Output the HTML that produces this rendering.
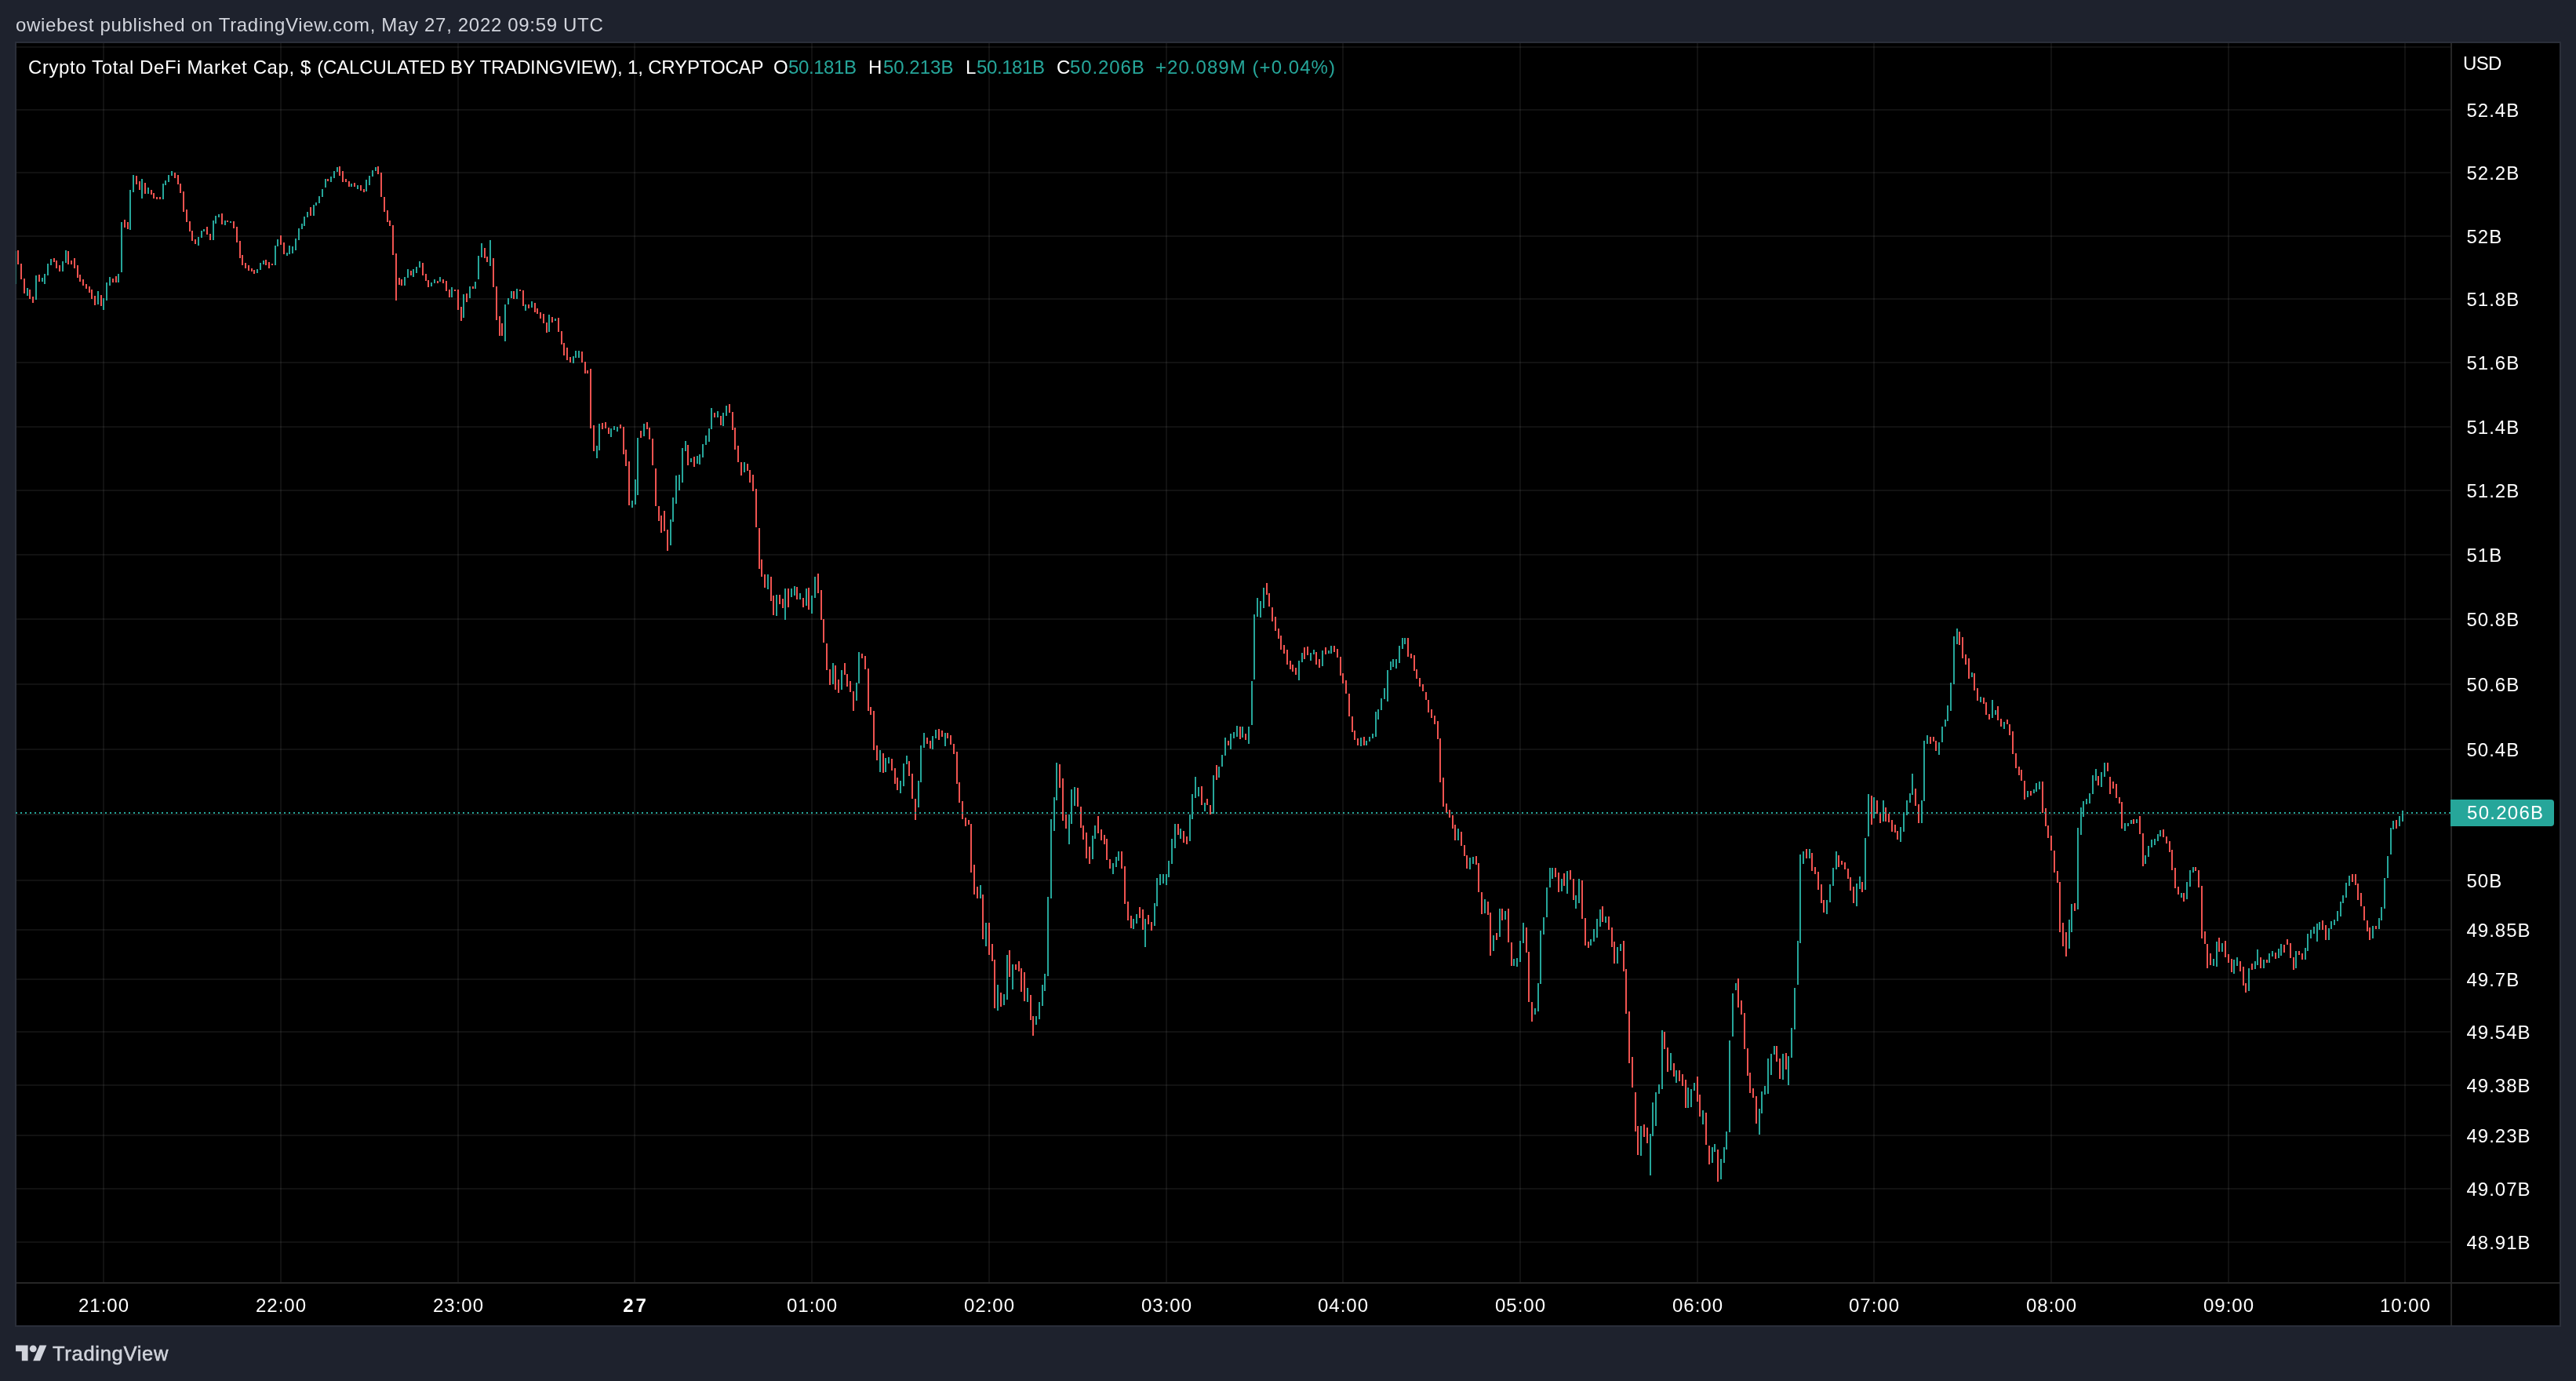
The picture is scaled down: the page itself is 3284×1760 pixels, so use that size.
<!DOCTYPE html>
<html><head><meta charset="utf-8"><title>TradingView chart</title>
<style>
html,body{margin:0;padding:0;background:#1e222d;}
body{width:3284px;height:1760px;position:relative;overflow:hidden;font-family:"Liberation Sans",sans-serif;font-size:24px;color:#fff;}
.hdr{position:absolute;left:20px;top:17.5px;line-height:28px;color:#d1d4dc;letter-spacing:0.68px;white-space:pre;}
.box{position:absolute;left:19px;top:53px;width:3242px;height:1634px;border:2px solid #2a2e39;background:#000;}
svg.ch{position:absolute;left:0;top:0;}
.txt{position:absolute;left:0;top:0;width:3284px;height:1760px;will-change:transform;}
.hdr,.logot{will-change:transform;}
.g{fill:#fff;fill-opacity:0.067}
.leg{position:absolute;top:72px;line-height:28px;white-space:pre;}
.t{color:#26a69a}
.pl{position:absolute;left:3144.5px;line-height:28px;letter-spacing:1px;white-space:pre;}
.tl{position:absolute;top:1650px;width:120px;text-align:center;line-height:28px;letter-spacing:1px;text-indent:1px;white-space:pre;}
.tl.b{font-weight:bold;letter-spacing:3px;text-indent:3px;}
.usd{position:absolute;left:3140px;top:67px;line-height:28px;letter-spacing:-0.7px;}
.cur{position:absolute;left:3145.1px;top:1022.3px;line-height:28px;letter-spacing:1.25px;}
.logo{position:absolute;left:20px;top:1709.6px;}
.logot{position:absolute;left:66.5px;top:1710.1px;font-size:25.5px;line-height:30px;letter-spacing:0.7px;color:#d1d4dc;-webkit-text-stroke:0.5px #d1d4dc;}
</style></head><body>
<div class="hdr">owiebest published on TradingView.com, May 27, 2022 09:59 UTC</div>
<div class="box"></div>
<svg class="ch" width="3284" height="1760" viewBox="0 0 3284 1760" shape-rendering="crispEdges">
<rect x="21" y="59" width="3103" height="2" class="g"/>
<rect x="21" y="1037" width="3103" height="2" class="g"/>
<rect x="21" y="139" width="3103" height="2" class="g"/>
<rect x="21" y="219" width="3103" height="2" class="g"/>
<rect x="21" y="300" width="3103" height="2" class="g"/>
<rect x="21" y="380" width="3103" height="2" class="g"/>
<rect x="21" y="461" width="3103" height="2" class="g"/>
<rect x="21" y="543" width="3103" height="2" class="g"/>
<rect x="21" y="624" width="3103" height="2" class="g"/>
<rect x="21" y="706" width="3103" height="2" class="g"/>
<rect x="21" y="788" width="3103" height="2" class="g"/>
<rect x="21" y="871" width="3103" height="2" class="g"/>
<rect x="21" y="954" width="3103" height="2" class="g"/>
<rect x="21" y="1121" width="3103" height="2" class="g"/>
<rect x="21" y="1184" width="3103" height="2" class="g"/>
<rect x="21" y="1247" width="3103" height="2" class="g"/>
<rect x="21" y="1314" width="3103" height="2" class="g"/>
<rect x="21" y="1382" width="3103" height="2" class="g"/>
<rect x="21" y="1446" width="3103" height="2" class="g"/>
<rect x="21" y="1514" width="3103" height="2" class="g"/>
<rect x="21" y="1582" width="3103" height="2" class="g"/>
<rect x="131" y="55" width="2" height="1579" class="g"/>
<rect x="357" y="55" width="2" height="1579" class="g"/>
<rect x="583" y="55" width="2" height="1579" class="g"/>
<rect x="808" y="55" width="2" height="1579" class="g"/>
<rect x="1034" y="55" width="2" height="1579" class="g"/>
<rect x="1260" y="55" width="2" height="1579" class="g"/>
<rect x="1486" y="55" width="2" height="1579" class="g"/>
<rect x="1711" y="55" width="2" height="1579" class="g"/>
<rect x="1937" y="55" width="2" height="1579" class="g"/>
<rect x="2163" y="55" width="2" height="1579" class="g"/>
<rect x="2388" y="55" width="2" height="1579" class="g"/>
<rect x="2614" y="55" width="2" height="1579" class="g"/>
<rect x="2840" y="55" width="2" height="1579" class="g"/>
<rect x="3065" y="55" width="2" height="1579" class="g"/>
<rect x="20" y="320" width="1" height="42" fill="#2c6e6a"/>
<path fill="#26a69a" d="M34 367h2v10h-2zM45 351h2v31h-2zM53 354h2v5h-2zM56 349h2v13h-2zM60 336h2v15h-2zM64 330h2v8h-2zM79 333h2v13h-2zM83 319h2v16h-2zM124 371h2v17h-2zM131 380h2v15h-2zM135 360h2v23h-2zM139 353h2v11h-2zM150 349h2v11h-2zM154 283h2v64h-2zM165 242h2v51h-2zM169 223h2v22h-2zM180 228h2v25h-2zM188 239h2v8h-2zM207 234h2v20h-2zM210 230h2v6h-2zM214 223h2v9h-2zM218 218h2v6h-2zM252 302h2v11h-2zM256 294h2v9h-2zM259 292h2v3h-2zM271 281h2v25h-2zM274 275h2v10h-2zM278 273h2v4h-2zM286 281h2v6h-2zM293 282h2v2h-2zM327 343h2v5h-2zM331 335h2v9h-2zM335 332h2v5h-2zM350 313h2v25h-2zM353 305h2v9h-2zM365 322h2v4h-2zM368 313h2v11h-2zM372 314h2v9h-2zM376 304h2v15h-2zM380 291h2v15h-2zM384 285h2v7h-2zM387 276h2v12h-2zM391 270h2v7h-2zM399 261h2v14h-2zM402 258h2v4h-2zM406 250h2v9h-2zM410 241h2v10h-2zM414 228h2v11h-2zM421 225h2v7h-2zM425 218h2v9h-2zM429 213h2v6h-2zM447 234h2v4h-2zM455 236h2v5h-2zM466 229h2v15h-2zM470 224h2v12h-2zM474 217h2v8h-2zM478 213h2v5h-2zM515 353h2v11h-2zM519 343h2v11h-2zM526 343h2v10h-2zM530 340h2v8h-2zM534 333h2v8h-2zM549 360h2v5h-2zM553 356h2v5h-2zM560 353h2v6h-2zM575 366h2v13h-2zM590 375h2v30h-2zM598 365h2v15h-2zM605 359h2v9h-2zM609 326h2v30h-2zM613 310h2v18h-2zM624 306h2v33h-2zM643 388h2v47h-2zM647 380h2v8h-2zM651 371h2v9h-2zM658 368h2v13h-2zM669 388h2v8h-2zM677 384h2v8h-2zM699 401h2v22h-2zM707 406h2v3h-2zM730 454h2v9h-2zM733 447h2v9h-2zM737 447h2v9h-2zM760 568h2v16h-2zM763 540h2v34h-2zM778 546h2v11h-2zM782 543h2v5h-2zM786 544h2v6h-2zM805 638h2v9h-2zM809 611h2v32h-2zM812 558h2v73h-2zM820 540h2v16h-2zM854 662h2v33h-2zM857 634h2v31h-2zM861 606h2v36h-2zM865 605h2v20h-2zM869 571h2v44h-2zM873 562h2v13h-2zM880 584h2v5h-2zM888 581h2v10h-2zM891 579h2v13h-2zM895 566h2v17h-2zM899 555h2v12h-2zM903 546h2v17h-2zM906 520h2v27h-2zM914 524h2v8h-2zM921 526h2v17h-2zM925 517h2v13h-2zM948 589h2v13h-2zM978 732h2v19h-2zM989 758h2v27h-2zM1000 750h2v40h-2zM1008 750h2v11h-2zM1012 747h2v12h-2zM1019 756h2v8h-2zM1027 750h2v22h-2zM1034 759h2v23h-2zM1038 735h2v27h-2zM1061 845h2v27h-2zM1072 854h2v25h-2zM1091 870h2v23h-2zM1094 831h2v40h-2zM1121 956h2v28h-2zM1128 966h2v18h-2zM1132 965h2v8h-2zM1147 995h2v16h-2zM1151 973h2v29h-2zM1155 963h2v11h-2zM1170 995h2v34h-2zM1173 950h2v47h-2zM1177 934h2v19h-2zM1188 938h2v17h-2zM1192 930h2v11h-2zM1204 934h2v17h-2zM1249 1128h2v17h-2zM1256 1176h2v30h-2zM1271 1255h2v33h-2zM1279 1267h2v14h-2zM1283 1217h2v57h-2zM1290 1229h2v32h-2zM1309 1259h2v18h-2zM1320 1295h2v11h-2zM1324 1277h2v22h-2zM1328 1255h2v27h-2zM1331 1241h2v22h-2zM1335 1143h2v101h-2zM1339 1044h2v101h-2zM1343 1016h2v43h-2zM1346 972h2v48h-2zM1362 1038h2v38h-2zM1365 1006h2v44h-2zM1369 1003h2v24h-2zM1392 1065h2v30h-2zM1395 1052h2v17h-2zM1418 1100h2v14h-2zM1422 1092h2v13h-2zM1425 1085h2v12h-2zM1444 1171h2v13h-2zM1448 1165h2v12h-2zM1459 1171h2v36h-2zM1471 1151h2v29h-2zM1474 1119h2v36h-2zM1478 1114h2v14h-2zM1482 1114h2v12h-2zM1486 1114h2v14h-2zM1489 1097h2v21h-2zM1493 1069h2v32h-2zM1497 1050h2v31h-2zM1504 1056h2v13h-2zM1516 1038h2v34h-2zM1519 1012h2v32h-2zM1523 990h2v27h-2zM1527 1003h2v12h-2zM1535 1023h2v11h-2zM1546 988h2v49h-2zM1553 977h2v14h-2zM1557 962h2v15h-2zM1561 940h2v23h-2zM1568 935h2v20h-2zM1572 933h2v8h-2zM1576 925h2v14h-2zM1583 926h2v14h-2zM1591 926h2v22h-2zM1595 868h2v56h-2zM1598 783h2v83h-2zM1602 762h2v24h-2zM1606 766h2v21h-2zM1610 749h2v26h-2zM1655 842h2v25h-2zM1659 832h2v12h-2zM1670 832h2v10h-2zM1674 828h2v6h-2zM1685 829h2v20h-2zM1693 829h2v4h-2zM1696 823h2v10h-2zM1734 940h2v11h-2zM1741 944h2v6h-2zM1745 939h2v6h-2zM1749 935h2v6h-2zM1753 907h2v32h-2zM1756 904h2v13h-2zM1760 890h2v15h-2zM1764 877h2v14h-2zM1768 854h2v40h-2zM1772 843h2v11h-2zM1775 840h2v10h-2zM1779 840h2v12h-2zM1783 823h2v22h-2zM1787 813h2v14h-2zM1790 813h2v8h-2zM1858 1056h2v15h-2zM1873 1093h2v15h-2zM1877 1092h2v9h-2zM1892 1146h2v18h-2zM1903 1192h2v20h-2zM1911 1158h2v36h-2zM1918 1161h2v11h-2zM1929 1222h2v9h-2zM1933 1221h2v11h-2zM1937 1199h2v27h-2zM1941 1176h2v26h-2zM1956 1285h2v8h-2zM1960 1253h2v36h-2zM1963 1186h2v68h-2zM1967 1169h2v22h-2zM1971 1131h2v38h-2zM1975 1106h2v25h-2zM1978 1106h2v14h-2zM1990 1120h2v16h-2zM1997 1110h2v29h-2zM2008 1141h2v17h-2zM2012 1120h2v31h-2zM2027 1197h2v8h-2zM2031 1184h2v16h-2zM2035 1171h2v24h-2zM2039 1159h2v22h-2zM2046 1168h2v8h-2zM2061 1207h2v21h-2zM2065 1203h2v9h-2zM2091 1435h2v38h-2zM2103 1445h2v53h-2zM2106 1405h2v43h-2zM2110 1392h2v43h-2zM2114 1382h2v12h-2zM2118 1313h2v75h-2zM2129 1342h2v22h-2zM2136 1364h2v16h-2zM2151 1386h2v26h-2zM2155 1388h2v23h-2zM2159 1380h2v10h-2zM2170 1415h2v18h-2zM2182 1462h2v20h-2zM2185 1458h2v10h-2zM2193 1477h2v26h-2zM2197 1462h2v20h-2zM2200 1442h2v23h-2zM2204 1326h2v117h-2zM2208 1266h2v55h-2zM2212 1253h2v9h-2zM2242 1413h2v33h-2zM2245 1391h2v28h-2zM2249 1384h2v11h-2zM2253 1349h2v45h-2zM2257 1343h2v27h-2zM2261 1333h2v11h-2zM2272 1343h2v33h-2zM2279 1346h2v37h-2zM2283 1310h2v38h-2zM2287 1259h2v53h-2zM2291 1199h2v56h-2zM2294 1089h2v113h-2zM2298 1085h2v16h-2zM2306 1082h2v12h-2zM2328 1147h2v18h-2zM2332 1127h2v23h-2zM2336 1106h2v23h-2zM2340 1085h2v23h-2zM2366 1126h2v29h-2zM2370 1117h2v16h-2zM2377 1068h2v66h-2zM2381 1012h2v54h-2zM2388 1016h2v27h-2zM2400 1020h2v27h-2zM2422 1054h2v19h-2zM2426 1035h2v25h-2zM2430 1020h2v19h-2zM2434 1011h2v12h-2zM2437 986h2v27h-2zM2449 1020h2v29h-2zM2452 944h2v77h-2zM2456 937h2v11h-2zM2471 946h2v16h-2zM2475 926h2v20h-2zM2479 917h2v9h-2zM2482 899h2v20h-2zM2486 870h2v36h-2zM2490 811h2v61h-2zM2494 801h2v20h-2zM2513 857h2v6h-2zM2524 888h2v7h-2zM2539 892h2v23h-2zM2543 905h2v6h-2zM2554 920h2v9h-2zM2584 1008h2v8h-2zM2592 1006h2v5h-2zM2595 998h2v11h-2zM2599 996h2v10h-2zM2637 1172h2v37h-2zM2640 1152h2v36h-2zM2648 1055h2v104h-2zM2652 1029h2v35h-2zM2655 1021h2v20h-2zM2659 1018h2v7h-2zM2663 1011h2v13h-2zM2667 988h2v24h-2zM2671 980h2v15h-2zM2678 984h2v19h-2zM2682 972h2v18h-2zM2708 1049h2v10h-2zM2712 1049h2v4h-2zM2716 1045h2v5h-2zM2723 1044h2v5h-2zM2734 1090h2v11h-2zM2738 1078h2v14h-2zM2742 1070h2v10h-2zM2746 1069h2v8h-2zM2750 1063h2v9h-2zM2753 1058h2v8h-2zM2780 1138h2v6h-2zM2787 1124h2v22h-2zM2791 1109h2v21h-2zM2795 1105h2v7h-2zM2821 1222h2v9h-2zM2825 1200h2v32h-2zM2832 1202h2v11h-2zM2847 1223h2v18h-2zM2851 1220h2v11h-2zM2866 1234h2v29h-2zM2874 1225h2v10h-2zM2877 1210h2v20h-2zM2885 1223h2v11h-2zM2892 1215h2v12h-2zM2896 1212h2v7h-2zM2904 1209h2v12h-2zM2907 1203h2v15h-2zM2926 1212h2v22h-2zM2938 1208h2v15h-2zM2941 1190h2v22h-2zM2945 1185h2v11h-2zM2949 1181h2v9h-2zM2953 1177h2v23h-2zM2956 1175h2v10h-2zM2968 1183h2v15h-2zM2971 1174h2v10h-2zM2975 1172h2v7h-2zM2979 1161h2v13h-2zM2983 1149h2v19h-2zM2986 1141h2v10h-2zM2990 1125h2v19h-2zM2994 1116h2v13h-2zM3024 1180h2v16h-2zM3032 1170h2v14h-2zM3035 1156h2v17h-2zM3039 1119h2v39h-2zM3043 1091h2v28h-2zM3047 1055h2v34h-2zM3050 1046h2v11h-2zM3058 1040h2v13h-2zM3062 1033h2v14h-2z"/>
<path fill="#ef5350" d="M22 319h2v18h-2zM26 336h2v20h-2zM30 355h2v19h-2zM37 369h2v12h-2zM41 378h2v8h-2zM49 350h2v9h-2zM68 329h2v5h-2zM71 332h2v10h-2zM75 338h2v8h-2zM86 320h2v17h-2zM90 332h2v5h-2zM94 329h2v13h-2zM98 338h2v16h-2zM101 350h2v9h-2zM105 356h2v8h-2zM109 362h2v6h-2zM113 365h2v8h-2zM116 369h2v12h-2zM120 377h2v12h-2zM128 376h2v14h-2zM143 355h2v5h-2zM147 352h2v8h-2zM158 280h2v10h-2zM162 283h2v9h-2zM173 224h2v11h-2zM177 231h2v11h-2zM184 233h2v14h-2zM192 242h2v6h-2zM195 246h2v7h-2zM199 251h2v3h-2zM203 251h2v3h-2zM222 220h2v7h-2zM226 223h2v12h-2zM229 234h2v12h-2zM233 244h2v26h-2zM237 267h2v16h-2zM241 282h2v13h-2zM244 294h2v13h-2zM248 305h2v6h-2zM263 289h2v10h-2zM267 298h2v8h-2zM282 272h2v14h-2zM289 281h2v2h-2zM297 282h2v9h-2zM301 289h2v20h-2zM305 307h2v22h-2zM308 325h2v13h-2zM312 335h2v7h-2zM316 338h2v7h-2zM320 342h2v4h-2zM323 344h2v5h-2zM338 331h2v7h-2zM342 334h2v8h-2zM346 336h2v2h-2zM357 300h2v12h-2zM361 309h2v15h-2zM395 264h2v11h-2zM417 228h2v3h-2zM432 212h2v12h-2zM436 218h2v14h-2zM440 228h2v4h-2zM444 231h2v7h-2zM451 233h2v5h-2zM459 236h2v7h-2zM463 241h2v4h-2zM481 212h2v10h-2zM485 220h2v31h-2zM489 251h2v19h-2zM493 268h2v15h-2zM496 281h2v7h-2zM500 287h2v38h-2zM504 323h2v60h-2zM508 354h2v9h-2zM511 356h2v8h-2zM523 345h2v6h-2zM538 335h2v16h-2zM542 349h2v9h-2zM545 357h2v9h-2zM557 358h2v3h-2zM564 356h2v5h-2zM568 358h2v13h-2zM572 369h2v10h-2zM579 369h2v2h-2zM583 369h2v26h-2zM587 391h2v18h-2zM594 374h2v11h-2zM602 365h2v3h-2zM617 316h2v13h-2zM620 327h2v7h-2zM628 329h2v37h-2zM632 365h2v43h-2zM636 403h2v25h-2zM639 412h2v16h-2zM654 371h2v10h-2zM662 369h2v2h-2zM666 370h2v20h-2zM673 388h2v5h-2zM681 386h2v12h-2zM684 393h2v7h-2zM688 398h2v8h-2zM692 400h2v12h-2zM696 411h2v13h-2zM703 404h2v7h-2zM711 405h2v18h-2zM715 422h2v17h-2zM718 437h2v16h-2zM722 443h2v16h-2zM726 455h2v7h-2zM741 448h2v14h-2zM745 461h2v15h-2zM748 472h2v4h-2zM752 470h2v76h-2zM756 542h2v33h-2zM767 539h2v8h-2zM771 538h2v8h-2zM775 545h2v8h-2zM790 541h2v5h-2zM794 544h2v35h-2zM797 573h2v21h-2zM801 588h2v56h-2zM816 549h2v9h-2zM824 538h2v9h-2zM827 545h2v15h-2zM831 559h2v34h-2zM835 597h2v48h-2zM839 645h2v19h-2zM842 657h2v22h-2zM846 651h2v26h-2zM850 675h2v27h-2zM876 567h2v26h-2zM884 582h2v13h-2zM910 526h2v6h-2zM918 530h2v12h-2zM929 515h2v11h-2zM933 525h2v23h-2zM936 545h2v28h-2zM940 568h2v21h-2zM944 589h2v17h-2zM952 591h2v9h-2zM955 599h2v16h-2zM959 605h2v21h-2zM963 623h2v49h-2zM967 673h2v52h-2zM970 713h2v22h-2zM974 732h2v17h-2zM982 735h2v31h-2zM985 759h2v25h-2zM993 758h2v12h-2zM997 763h2v12h-2zM1004 750h2v24h-2zM1015 748h2v16h-2zM1023 762h2v12h-2zM1030 749h2v28h-2zM1042 731h2v25h-2zM1046 752h2v38h-2zM1049 789h2v30h-2zM1053 820h2v34h-2zM1057 853h2v20h-2zM1064 848h2v31h-2zM1068 866h2v17h-2zM1076 845h2v15h-2zM1079 859h2v16h-2zM1083 868h2v14h-2zM1087 881h2v25h-2zM1098 833h2v6h-2zM1102 836h2v17h-2zM1106 852h2v54h-2zM1109 901h2v10h-2zM1113 906h2v50h-2zM1117 950h2v19h-2zM1125 960h2v25h-2zM1136 967h2v15h-2zM1140 979h2v20h-2zM1143 991h2v16h-2zM1158 970h2v19h-2zM1162 986h2v32h-2zM1166 1018h2v27h-2zM1181 940h2v8h-2zM1185 944h2v10h-2zM1196 929h2v14h-2zM1200 931h2v8h-2zM1207 934h2v7h-2zM1211 937h2v12h-2zM1215 948h2v13h-2zM1219 958h2v41h-2zM1222 997h2v26h-2zM1226 1021h2v23h-2zM1230 1042h2v11h-2zM1234 1045h2v6h-2zM1237 1050h2v62h-2zM1241 1102h2v38h-2zM1245 1130h2v15h-2zM1252 1140h2v57h-2zM1260 1176h2v41h-2zM1264 1203h2v22h-2zM1267 1223h2v62h-2zM1275 1265h2v18h-2zM1286 1211h2v34h-2zM1294 1229h2v7h-2zM1298 1225h2v13h-2zM1301 1234h2v30h-2zM1305 1239h2v37h-2zM1313 1268h2v32h-2zM1316 1295h2v25h-2zM1350 974h2v30h-2zM1354 992h2v54h-2zM1358 1038h2v18h-2zM1373 1004h2v24h-2zM1377 1028h2v27h-2zM1380 1052h2v18h-2zM1384 1061h2v33h-2zM1388 1079h2v22h-2zM1399 1040h2v22h-2zM1403 1057h2v14h-2zM1407 1064h2v12h-2zM1410 1069h2v27h-2zM1414 1095h2v12h-2zM1429 1085h2v22h-2zM1433 1104h2v48h-2zM1437 1149h2v24h-2zM1441 1167h2v16h-2zM1452 1156h2v14h-2zM1456 1159h2v26h-2zM1463 1166h2v12h-2zM1467 1175h2v11h-2zM1501 1050h2v14h-2zM1508 1059h2v15h-2zM1512 1066h2v10h-2zM1531 1002h2v24h-2zM1538 1018h2v8h-2zM1542 1026h2v12h-2zM1550 975h2v19h-2zM1565 944h2v6h-2zM1580 926h2v16h-2zM1587 935h2v8h-2zM1614 743h2v15h-2zM1617 756h2v17h-2zM1621 774h2v18h-2zM1625 786h2v18h-2zM1629 801h2v13h-2zM1632 810h2v18h-2zM1636 822h2v11h-2zM1640 828h2v19h-2zM1644 842h2v11h-2zM1647 847h2v9h-2zM1651 851h2v9h-2zM1662 825h2v15h-2zM1666 824h2v11h-2zM1677 831h2v16h-2zM1681 840h2v11h-2zM1689 825h2v9h-2zM1700 823h2v8h-2zM1704 827h2v11h-2zM1708 837h2v24h-2zM1711 858h2v13h-2zM1715 867h2v17h-2zM1719 884h2v29h-2zM1723 913h2v20h-2zM1726 931h2v12h-2zM1730 941h2v9h-2zM1738 939h2v11h-2zM1794 813h2v24h-2zM1798 833h2v6h-2zM1802 835h2v20h-2zM1805 853h2v12h-2zM1809 864h2v11h-2zM1813 872h2v9h-2zM1817 882h2v10h-2zM1820 892h2v16h-2zM1824 904h2v11h-2zM1828 912h2v11h-2zM1832 919h2v23h-2zM1835 941h2v56h-2zM1839 991h2v37h-2zM1843 1024h2v12h-2zM1847 1032h2v10h-2zM1851 1039h2v17h-2zM1854 1051h2v20h-2zM1862 1060h2v18h-2zM1866 1077h2v14h-2zM1869 1090h2v17h-2zM1881 1091h2v11h-2zM1884 1100h2v37h-2zM1888 1137h2v28h-2zM1896 1149h2v17h-2zM1899 1163h2v55h-2zM1907 1189h2v9h-2zM1914 1158h2v15h-2zM1922 1158h2v43h-2zM1926 1201h2v30h-2zM1945 1182h2v32h-2zM1948 1213h2v64h-2zM1952 1277h2v25h-2zM1982 1106h2v12h-2zM1986 1112h2v25h-2zM1993 1113h2v16h-2zM2001 1109h2v12h-2zM2005 1120h2v27h-2zM2016 1122h2v49h-2zM2020 1170h2v35h-2zM2024 1200h2v8h-2zM2042 1155h2v20h-2zM2050 1168h2v17h-2zM2054 1182h2v25h-2zM2057 1200h2v28h-2zM2069 1199h2v39h-2zM2072 1235h2v57h-2zM2076 1289h2v66h-2zM2080 1347h2v39h-2zM2084 1392h2v50h-2zM2087 1435h2v37h-2zM2095 1433h2v16h-2zM2099 1437h2v20h-2zM2121 1315h2v22h-2zM2125 1335h2v31h-2zM2133 1355h2v17h-2zM2140 1364h2v14h-2zM2144 1369h2v15h-2zM2148 1376h2v36h-2zM2163 1372h2v32h-2zM2166 1395h2v28h-2zM2174 1418h2v41h-2zM2178 1460h2v24h-2zM2189 1465h2v41h-2zM2215 1247h2v37h-2zM2219 1275h2v18h-2zM2223 1291h2v46h-2zM2227 1336h2v35h-2zM2230 1367h2v26h-2zM2234 1387h2v12h-2zM2238 1397h2v35h-2zM2264 1333h2v20h-2zM2268 1349h2v26h-2zM2276 1342h2v21h-2zM2302 1082h2v12h-2zM2309 1087h2v23h-2zM2313 1105h2v9h-2zM2317 1111h2v23h-2zM2321 1127h2v24h-2zM2324 1147h2v16h-2zM2343 1090h2v15h-2zM2347 1097h2v5h-2zM2351 1099h2v9h-2zM2355 1107h2v13h-2zM2358 1118h2v17h-2zM2362 1130h2v21h-2zM2373 1124h2v13h-2zM2385 1014h2v37h-2zM2392 1020h2v17h-2zM2396 1037h2v12h-2zM2403 1029h2v18h-2zM2407 1037h2v11h-2zM2411 1045h2v15h-2zM2415 1051h2v10h-2zM2418 1059h2v11h-2zM2441 1005h2v22h-2zM2445 1025h2v24h-2zM2460 939h2v9h-2zM2464 939h2v6h-2zM2467 944h2v13h-2zM2497 805h2v17h-2zM2501 812h2v27h-2zM2505 834h2v13h-2zM2509 839h2v26h-2zM2516 858h2v22h-2zM2520 877h2v16h-2zM2528 889h2v8h-2zM2531 895h2v16h-2zM2535 910h2v7h-2zM2546 900h2v18h-2zM2550 916h2v10h-2zM2558 917h2v6h-2zM2561 923h2v14h-2zM2565 932h2v29h-2zM2569 960h2v19h-2zM2573 977h2v11h-2zM2576 981h2v14h-2zM2580 995h2v24h-2zM2588 1008h2v6h-2zM2603 996h2v40h-2zM2607 1030h2v23h-2zM2610 1052h2v16h-2zM2614 1065h2v19h-2zM2618 1084h2v28h-2zM2622 1110h2v15h-2zM2625 1124h2v64h-2zM2629 1176h2v30h-2zM2633 1188h2v31h-2zM2644 1151h2v10h-2zM2674 989h2v12h-2zM2686 972h2v11h-2zM2689 990h2v22h-2zM2693 996h2v9h-2zM2697 999h2v18h-2zM2701 1016h2v8h-2zM2704 1022h2v34h-2zM2719 1044h2v6h-2zM2727 1040h2v23h-2zM2731 1062h2v42h-2zM2757 1057h2v10h-2zM2761 1066h2v9h-2zM2765 1072h2v14h-2zM2768 1083h2v26h-2zM2772 1106h2v26h-2zM2776 1130h2v10h-2zM2783 1138h2v11h-2zM2798 1105h2v5h-2zM2802 1109h2v22h-2zM2806 1129h2v67h-2zM2810 1187h2v16h-2zM2813 1203h2v31h-2zM2817 1215h2v15h-2zM2828 1195h2v18h-2zM2836 1199h2v21h-2zM2840 1216h2v11h-2zM2844 1222h2v17h-2zM2855 1225h2v13h-2zM2859 1232h2v24h-2zM2862 1253h2v12h-2zM2870 1228h2v8h-2zM2881 1220h2v14h-2zM2889 1223h2v4h-2zM2900 1214h2v8h-2zM2911 1204h2v10h-2zM2915 1197h2v7h-2zM2919 1202h2v19h-2zM2923 1220h2v16h-2zM2930 1212h2v5h-2zM2934 1215h2v8h-2zM2960 1173h2v12h-2zM2964 1179h2v19h-2zM2998 1114h2v10h-2zM3002 1114h2v14h-2zM3005 1126h2v21h-2zM3009 1138h2v17h-2zM3013 1155h2v18h-2zM3017 1173h2v14h-2zM3020 1182h2v16h-2zM3028 1180h2v4h-2zM3054 1045h2v11h-2z"/>
<path d="M20 1036H3124" stroke="#26a69a" stroke-width="2" stroke-dasharray="2 4" fill="none"/>
<rect x="3124" y="55" width="2" height="1634" fill="#262626"/>
<rect x="21" y="1634" width="3242" height="2" fill="#262626"/>
<path d="M3124 1019h128a4 4 0 0 1 4 4v26a4 4 0 0 1-4 4h-128z" fill="#26a69a" shape-rendering="geometricPrecision"/>
</svg>
<div class="txt">
<div class="leg" style="left:36px;letter-spacing:0.6px">Crypto Total DeFi Market Cap, $ <span style="letter-spacing:-0.15px">(CALCULATED BY TRADINGVIEW), 1, CRYPTOCAP</span></div>
<div class="leg" style="left:986px">O</div><div class="leg t" style="left:1005px;letter-spacing:-0.4px">50.181B</div>
<div class="leg" style="left:1107px">H</div><div class="leg t" style="left:1126px;letter-spacing:0px">50.213B</div>
<div class="leg" style="left:1231px">L</div><div class="leg t" style="left:1245px;letter-spacing:-0.4px">50.181B</div>
<div class="leg" style="left:1347px">C</div><div class="leg t" style="left:1364px;letter-spacing:0.9px">50.206B</div>
<div class="leg t" style="left:1473px;letter-spacing:1.05px">+20.089M (+0.04%)</div>
<div class="usd">USD</div>
<div class="pl" style="top:127.0px">52.4B</div>
<div class="pl" style="top:207.0px">52.2B</div>
<div class="pl" style="top:288.0px">52B</div>
<div class="pl" style="top:368.0px">51.8B</div>
<div class="pl" style="top:449.0px">51.6B</div>
<div class="pl" style="top:531.0px">51.4B</div>
<div class="pl" style="top:612.0px">51.2B</div>
<div class="pl" style="top:694.0px">51B</div>
<div class="pl" style="top:776.0px">50.8B</div>
<div class="pl" style="top:859.0px">50.6B</div>
<div class="pl" style="top:942.0px">50.4B</div>
<div class="pl" style="top:1109.0px">50B</div>
<div class="pl" style="top:1172.0px">49.85B</div>
<div class="pl" style="top:1235.0px">49.7B</div>
<div class="pl" style="top:1302.0px">49.54B</div>
<div class="pl" style="top:1370.0px">49.38B</div>
<div class="pl" style="top:1434.0px">49.23B</div>
<div class="pl" style="top:1502.0px">49.07B</div>
<div class="pl" style="top:1570.0px">48.91B</div>
<div class="tl" style="left:72.0px">21:00</div>
<div class="tl" style="left:298.0px">22:00</div>
<div class="tl" style="left:524.0px">23:00</div>
<div class="tl b" style="left:749.0px">27</div>
<div class="tl" style="left:975.0px">01:00</div>
<div class="tl" style="left:1201.0px">02:00</div>
<div class="tl" style="left:1427.0px">03:00</div>
<div class="tl" style="left:1652.0px">04:00</div>
<div class="tl" style="left:1878.0px">05:00</div>
<div class="tl" style="left:2104.0px">06:00</div>
<div class="tl" style="left:2329.0px">07:00</div>
<div class="tl" style="left:2555.0px">08:00</div>
<div class="tl" style="left:2781.0px">09:00</div>
<div class="tl" style="left:3006.0px">10:00</div>
<div class="cur">50.206B</div>
</div>
<svg class="logo" width="40" height="31" viewBox="0 0 36 28"><path fill="#d1d4dc" d="M14 22H7V11H0V4h14v18zM28 22h-8l7.5-18h8L28 22z"/><circle cx="20" cy="8" r="4" fill="#d1d4dc"/></svg>
<div class="logot">TradingView</div>
</body></html>
